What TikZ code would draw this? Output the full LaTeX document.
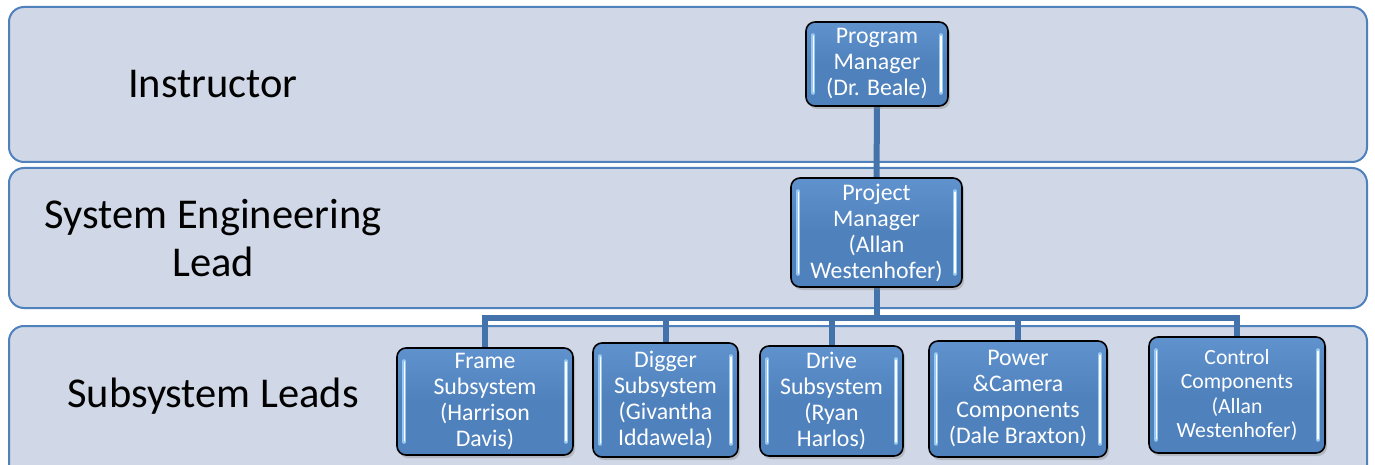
\documentclass[tikz,border=0pt]{standalone}
\usepackage{fontspec}
\setmainfont{Carlito}
\usetikzlibrary{shadows}
\definecolor{bandfill}{RGB}{208,215,230}
\definecolor{bandline}{RGB}{79,129,189}
\definecolor{boxfill}{RGB}{79,129,189}
\definecolor{boxtop}{RGB}{96,146,206}
\definecolor{conncol}{RGB}{68,114,170}
\definecolor{hlout}{RGB}{150,200,240}
\pgfdeclarelayer{bandlayer}
\pgfdeclarelayer{connlayer}
\pgfsetlayers{bandlayer,connlayer,main}
\tikzset{
  band/.style={draw=bandline, line width=2pt, fill=bandfill, rounded corners=15pt},
  bandlabel/.style={font=\fontsize{42.5}{48}\selectfont, align=center, text=black},
  orgbox/.style={draw=black, line width=1.6pt, rounded corners=9pt,
    top color=boxtop, bottom color=boxfill, middle color=boxfill,
    text=white, align=center, inner sep=0pt,
    font=\fontsize{23.8}{26}\selectfont,
    drop shadow={opacity=0.35, shadow xshift=2pt, shadow yshift=-3pt}},
  conn/.style={draw=conncol, line width=6pt},
  hlo/.style={draw=hlout, line width=4pt, line cap=round},
  hli/.style={draw=white, line width=1.4pt, line cap=round}
}
\newcommand{\glossbars}[1]{%
  \draw[hlo] ([xshift=8pt,yshift=-14pt]#1.north west) -- ([xshift=8pt,yshift=14pt]#1.south west);
  \draw[hli] ([xshift=8pt,yshift=-15pt]#1.north west) -- ([xshift=8pt,yshift=15pt]#1.south west);
  \draw[hlo] ([xshift=-8pt,yshift=-14pt]#1.north east) -- ([xshift=-8pt,yshift=14pt]#1.south east);
  \draw[hli] ([xshift=-8pt,yshift=-15pt]#1.north east) -- ([xshift=-8pt,yshift=15pt]#1.south east);
}
\begin{document}
\begin{tikzpicture}[x=1pt,y=-1pt]
\useasboundingbox (0,0) rectangle (1375,465);
\begin{pgfonlayer}{bandlayer}
  \fill[white] (0,0) rectangle (1375,465);
  \path[band] (9,7) rectangle (1367,162);
  \path[band] (9,168) rectangle (1367,308);
  \path[band] (9,326) rectangle (1367,500);
\end{pgfonlayer}
\node[bandlabel] (linstr) at (213,84) {Instructor};
\node[bandlabel] (lsys) at (213,238) {System Engineering\\Lead};
\node[bandlabel] (lsub) at (213,396) {Subsystem Leads};

\node[orgbox, minimum width=142pt, minimum height=84pt] (pm) at (877,64) {Program\\Manager\\(Dr. Beale)};
\node[orgbox, minimum width=171pt, minimum height=109pt] (pj) at (876.5,232.5) {Project\\Manager\\(Allan\\Westenhofer)};
\node[orgbox, minimum width=176pt, minimum height=107pt] (fr) at (485,401.5) {Frame\\Subsystem\\(Harrison\\Davis)};
\node[orgbox, minimum width=145pt, minimum height=114pt] (dg) at (665.5,400) {Digger\\Subsystem\\(Givantha\\Iddawela)};
\node[orgbox, minimum width=143pt, minimum height=110pt] (dr) at (831.5,401) {Drive\\Subsystem\\(Ryan\\Harlos)};
\node[orgbox, minimum width=178pt, minimum height=116pt] (pw) at (1018,399) {Power\\\&Camera\\Components\\(Dale Braxton)};
\node[orgbox, minimum width=176pt, minimum height=116pt, font=\fontsize{21.7}{24.5}\selectfont] (ct) at (1237,395) {Control\\Components\\(Allan\\Westenhofer)};

\foreach \n in {pm,pj,fr,dg,dr,pw,ct} {\glossbars{\n}}

\coordinate (jn) at (876.5,318);
\begin{pgfonlayer}{connlayer}
  \draw[conn] (pm.south) -- (pj.north);
  \draw[conn] (pj.south) -- (jn);
  \draw[conn] (jn) -| (fr.north);
  \draw[conn] (jn) -| (dg.north);
  \draw[conn] (jn) -| (dr.north);
  \draw[conn] (jn) -| (pw.north);
  \draw[conn] (jn) -| (ct.north);
\end{pgfonlayer}
\end{tikzpicture}
\end{document}
